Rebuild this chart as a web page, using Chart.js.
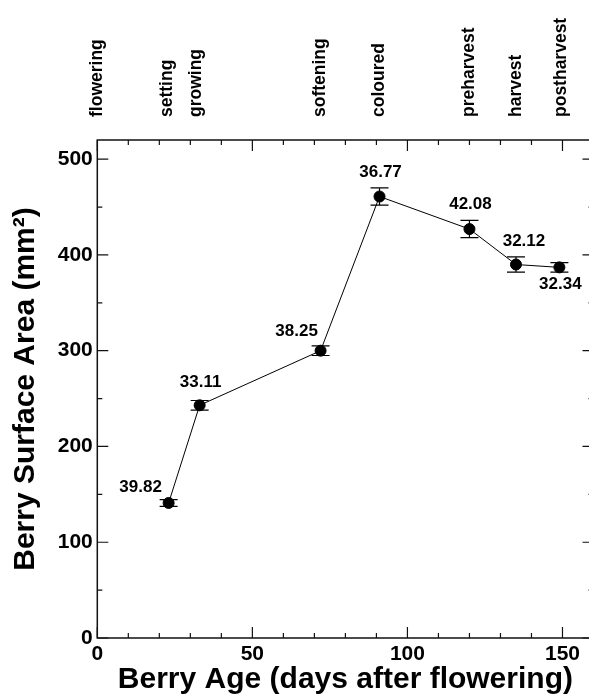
<!DOCTYPE html>
<html>
<head>
<meta charset="utf-8">
<script src="https://cdn.jsdelivr.net/npm/chart.js@4"></script>
<style>
  html, body { margin: 0; padding: 0; background: #fff; overflow: hidden; }
  #wrap { width: 600px; height: 700px; }
</style>
</head>
<body>
<div id="wrap"><canvas id="chart"></canvas></div>
<script>
// data
const days = [23, 33, 72, 91, 120, 135, 149];
const area = [141, 243, 300, 461, 427, 390, 387];
const errs = [3.5, 5, 5, 9, 9, 8, 5];
const pointLabels = ['39.82', '33.11', '38.25', '36.77', '42.08', '32.12', '32.34'];
const stages = ['flowering', 'setting', 'growing', 'softening', 'coloured', 'preharvest', 'harvest', 'postharvest'];
const stageDays = [0, 22.5, 32, 72, 91, 120, 135, 149.5];
const xTicks = [0, 50, 100, 150];
const yTicks = [0, 100, 200, 300, 400, 500];

// label nudges in px (where each number sits next to its point)
const labelShift = [[-28, -16], [1, -23], [-24, -19], [1, -24], [1, -25], [8, -23], [1, 17]];

const FONT = '"Liberation Sans", Arial, Helvetica, sans-serif';

const frameTicks = {
  id: 'frameTicks',
  afterDraw(chart) {
    const { ctx, chartArea: a, scales: { x, y } } = chart;
    ctx.save();
    ctx.strokeStyle = '#111';
    ctx.lineWidth = 1.5;
    ctx.strokeRect(a.left, a.top, a.right - a.left, a.bottom - a.top);
    ctx.lineWidth = 1.2;
    ctx.beginPath();
    for (let v = 0; v <= 160; v += 10) {
      const px = x.getPixelForValue(v);
      const len = v % 50 === 0 ? 11 : 5;
      ctx.moveTo(px, a.bottom); ctx.lineTo(px, a.bottom - len);
      ctx.moveTo(px, a.top); ctx.lineTo(px, a.top + len);
    }
    for (let v = 0; v <= 500; v += 50) {
      const py = y.getPixelForValue(v);
      const len = v % 100 === 0 ? 11 : 5;
      ctx.moveTo(a.left, py); ctx.lineTo(a.left + len, py);
      ctx.moveTo(a.right, py); ctx.lineTo(a.right - len, py);
    }
    ctx.stroke();

    // stage names along the top
    ctx.fillStyle = '#000';
    ctx.font = 'bold 17.5px ' + FONT;
    ctx.textAlign = 'left';
    ctx.textBaseline = 'middle';
    stages.forEach((s, i) => {
      ctx.save();
      ctx.translate(x.getPixelForValue(stageDays[i]), 117);
      ctx.rotate(-Math.PI / 2);
      ctx.fillText(s, 0, 0);
      ctx.restore();
    });

    // numbers beside the points
    ctx.font = 'bold 17px ' + FONT;
    ctx.textAlign = 'center';
    pointLabels.forEach((t, i) => {
      const px = x.getPixelForValue(days[i]) + labelShift[i][0];
      const py = y.getPixelForValue(area[i]) + labelShift[i][1];
      ctx.fillText(t, px, py);
    });
    ctx.restore();
  }
};

const errorBars = {
  id: 'errorBars',
  beforeDatasetsDraw(chart) {
    const { ctx, scales: { x, y } } = chart;
    ctx.save();
    ctx.strokeStyle = '#000';
    ctx.lineWidth = 1.2;
    ctx.beginPath();
    days.forEach((d, i) => {
      const px = x.getPixelForValue(d);
      const hi = y.getPixelForValue(area[i] + errs[i]);
      const lo = y.getPixelForValue(area[i] - errs[i]);
      ctx.moveTo(px, hi); ctx.lineTo(px, lo);
      ctx.moveTo(px - 9, hi); ctx.lineTo(px + 9, hi);
      ctx.moveTo(px - 9, lo); ctx.lineTo(px + 9, lo);
    });
    ctx.stroke();
    ctx.restore();
  }
};

new Chart(document.getElementById('chart'), {
  type: 'scatter',
  data: {
    datasets: [{
      data: days.map((d, i) => ({ x: d, y: area[i] })),
      showLine: true,
      borderColor: '#000',
      borderWidth: 1,
      pointRadius: 5.5,
      pointHoverRadius: 5.5,
      pointBackgroundColor: '#000',
      pointBorderColor: '#000'
    }]
  },
  options: {
    responsive: true,
    maintainAspectRatio: false,
    animation: false,
    layout: { padding: { top: 140, right: 6, left: 0, bottom: 0 } },
    plugins: {
      legend: { display: false },
      tooltip: { enabled: false }
    },
    scales: {
      x: {
        type: 'linear',
        min: 0,
        max: 160,
        afterBuildTicks: s => { s.ticks = xTicks.map(v => ({ value: v })); },
        afterFit: s => { s.height = 62; },
        grid: { display: false, drawTicks: false },
        border: { display: false },
        ticks: { color: '#000', padding: 4, maxRotation: 0, font: { family: FONT, size: 21, weight: 'bold' } },
        title: {
          display: true,
          text: 'Berry Age (days after flowering)',
          color: '#000',
          padding: { top: 0, bottom: 2.5 },
          font: { family: FONT, size: 30, weight: 'bold' }
        }
      },
      y: {
        min: 0,
        max: 520,
        afterBuildTicks: s => { s.ticks = yTicks.map(v => ({ value: v })); },
        afterFit: s => { s.width = 97.3; },
        grid: { display: false, drawTicks: false },
        border: { display: false },
        ticks: { color: '#000', padding: 4.5, font: { family: FONT, size: 21, weight: 'bold' } },
        title: {
          display: true,
          text: 'Berry Surface Area (mm²)',
          color: '#000',
          padding: { top: 8, bottom: 0 },
          font: { family: FONT, size: 30, weight: 'bold' }
        }
      }
    }
  },
  plugins: [errorBars, frameTicks]
});
</script>
</body>
</html>
